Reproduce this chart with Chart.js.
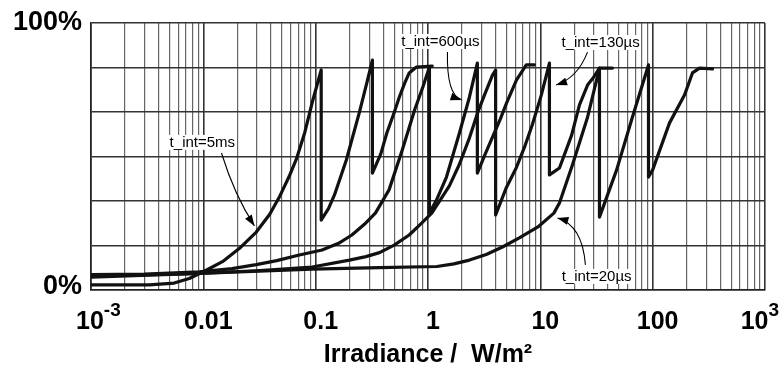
<!DOCTYPE html>
<html>
<head>
<meta charset="utf-8">
<script src="https://cdn.jsdelivr.net/npm/chart.js@4.4.1/dist/chart.umd.min.js"></script>
<style>
  html, body { margin: 0; padding: 0; background: #fff; }
  canvas { display: block; }
</style>
</head>
<body>
<canvas id="irr" width="784" height="370"></canvas>
<script>
// axis ticks / labels
const xTicks = [0.001, 0.01, 0.1, 1, 10, 100, 1000];
const xTickBase = ['10', '0.01', '0.1', '1', '10', '100', '10'];
const xTickSup = ['-3', '', '', '', '', '', '3'];
const xMinor = [2, 3, 4, 5, 6, 7, 8, 9];
const yGrid = [0, 16.67, 33.33, 50, 66.67, 83.33, 100];
const yLabelVals = [0, 100];
const yLabelText = ['0%', '100%'];

// curves (W/m2, %)
const x5ms = [0.001, 0.0033, 0.0055, 0.0075, 0.0107, 0.0148, 0.021, 0.0296, 0.039, 0.0475, 0.058, 0.0673, 0.08, 0.0935, 0.112,
  0.112, 0.13, 0.147, 0.1875, 0.245, 0.285, 0.32,
  0.32, 0.38, 0.43, 0.5, 0.556, 0.62, 0.68, 0.79, 1.09];
const y5ms = [1.9, 1.9, 2.6, 4.3, 7.5, 10.6, 15.6, 21.7, 28.4, 34.8, 42.5, 49.0, 59.0, 70.5, 82.4,
  26.2, 30.5, 35.6, 48.7, 66.5, 77.5, 86.1,
  43.8, 51, 58.8, 66.5, 72.3, 77.5, 81.3, 83.5, 83.9];

const x600us = [0.001, 0.003, 0.0092, 0.018, 0.0296, 0.045, 0.07, 0.114, 0.16, 0.21, 0.27, 0.34, 0.45, 0.59, 0.76, 0.9, 1.03,
  1.03, 1.2, 1.46, 1.905, 2.34, 2.75,
  2.75, 3.2, 3.75, 4.4, 5.0, 6.14, 7.5, 8.85];
const y600us = [5.8, 6.0, 6.8, 8.0, 9.5, 11.0, 13.0, 15.0, 17.5, 20.6, 24.5, 28.8, 37.5, 52.4, 67.4, 76, 83.5,
  28.8, 34, 42.3, 58.8, 72.3, 85.0,
  43.8, 50.5, 57.3, 64, 70.0, 78.7, 84.3, 84.3];

const x130us = [0.001, 0.0092, 0.0296, 0.093, 0.2, 0.28, 0.37, 0.5, 0.68, 0.85, 1.08, 1.55, 1.9, 2.34, 2.8, 3.18, 3.75, 4.0,
  4.0, 5.0, 6.14, 7.3, 8.5, 10.2, 12.05,
  12.05, 14.8, 19, 22.3, 26.5, 29.5, 33.6, 43.9];
const y130us = [5.2, 6.2, 7.2, 8.6, 11.2, 12.5, 14.0, 16.8, 20.6, 24.5, 28.8, 39, 47, 57, 67, 73, 80.5, 82.4,
  28.1, 38.5, 46, 54, 62, 73, 85.0,
  43.1, 45.7, 58, 69.3, 77, 79.4, 83.1, 83.1];

const x20us = [0.001, 0.0092, 0.093, 0.37, 1.2, 1.7, 2.34, 3.3, 4.6, 6.5, 9.52, 13.2, 14.8, 19.3, 26.2, 33.6,
  33.6, 47.7, 66.1, 91.8,
  91.8, 99.8, 141, 192, 226, 261, 341];
const y20us = [4.8, 6.2, 7.8, 8.4, 8.8, 9.8, 11.2, 13.3, 16.1, 19.5, 23.6, 28.8, 32.6, 46.8, 64.4, 83.1,
  27.3, 44.9, 64.8, 84.3,
  42.3, 44.9, 62.5, 73, 81.3, 83.1, 82.8];

// callouts: text position, arrow start, bend, tip (data units)
const notes = [
  { text: 't_int=5ms',   at: [0.0098, 55.1], from: [0.0145, 51.3], bend: [0.0189, 35.6], tip: [0.0285, 24.0] },
  { text: 't_int=600µs', at: [1.29, 92.9],   from: [1.49, 89.1],   bend: [1.46, 73.0],   tip: [1.99, 71.2] },
  { text: 't_int=130µs', at: [34.4, 92.5],   from: [26.3, 89.1],   bend: [21.4, 79.4],   tip: [13.8, 76.8] },
  { text: 't_int=20µs',  at: [31.7, 4.9],    from: [25.2, 9.4],    bend: [23.7, 24.3],   tip: [14.2, 27.0] }
];

const FONT = '"Liberation Sans", Arial, sans-serif';

function pts(xs, ys) {
  return xs.map((x, i) => ({ x: x, y: ys[i] }));
}

function isDecade(v) {
  const l = Math.log10(v);
  return Math.abs(l - Math.round(l)) < 1e-6;
}

let xGrid = [];
for (let e = -3; e < 3; e++) {
  xGrid.push(Math.pow(10, e));
  xMinor.forEach(m => xGrid.push(m * Math.pow(10, e)));
}
xGrid.push(1000);

const textPlugin = {
  id: 'textPlugin',
  afterDatasetsDraw(chart) {
    const { ctx, chartArea, scales } = chart;
    const xs = scales.x, ys = scales.y;
    ctx.save();
    ctx.fillStyle = '#000';
    ctx.strokeStyle = '#000';

    // x tick labels with superscripts
    ctx.textBaseline = 'alphabetic';
    ctx.textAlign = 'left';
    xTicks.forEach((v, i) => {
      ctx.font = 'bold 25px ' + FONT;
      const wb = ctx.measureText(xTickBase[i]).width;
      ctx.font = 'bold 19px ' + FONT;
      const ws = xTickSup[i] ? ctx.measureText(xTickSup[i]).width : 0;
      let left = xs.getPixelForValue(v) + 5 - (wb + ws) / 2;
      left = Math.max(76, Math.min(left, chart.width - 5 - wb - ws));
      const base = chartArea.bottom + 39;
      ctx.font = 'bold 25px ' + FONT;
      ctx.fillText(xTickBase[i], left, base);
      if (xTickSup[i]) {
        ctx.font = 'bold 19px ' + FONT;
        ctx.fillText(xTickSup[i], left + wb, base - 13);
      }
    });

    // y labels
    ctx.font = 'bold 27px ' + FONT;
    ctx.textAlign = 'right';
    ctx.textBaseline = 'middle';
    yLabelVals.forEach((v, i) => {
      ctx.fillText(yLabelText[i], chartArea.left - 9, ys.getPixelForValue(v) - (v === 0 ? 3 : 0));
    });

    // axis title
    ctx.font = 'bold 25px ' + FONT;
    ctx.textAlign = 'center';
    ctx.textBaseline = 'alphabetic';
    ctx.fillText('Irradiance /  W/m²', (chartArea.left + chartArea.right) / 2, chartArea.bottom + 72);

    // callouts
    notes.forEach(n => {
      const p = a => [xs.getPixelForValue(a[0]), ys.getPixelForValue(a[1])];
      const t = p(n.at), f = p(n.from), b = p(n.bend), k = p(n.tip);
      ctx.font = '15px ' + FONT;
      const w = ctx.measureText(n.text).width;
      ctx.fillStyle = '#fff';
      ctx.fillRect(t[0] - w / 2 - 1, t[1] - 8, w + 2, 15);
      ctx.fillStyle = '#000';
      ctx.textAlign = 'center';
      ctx.textBaseline = 'middle';
      ctx.fillText(n.text, t[0], t[1]);

      ctx.lineWidth = 1.1;
      ctx.beginPath();
      ctx.moveTo(f[0], f[1]);
      ctx.quadraticCurveTo(b[0], b[1], k[0], k[1]);
      ctx.stroke();
      const ang = Math.atan2(k[1] - b[1], k[0] - b[0]);
      ctx.beginPath();
      ctx.moveTo(k[0], k[1]);
      ctx.lineTo(k[0] - 11 * Math.cos(ang) + 4 * Math.sin(ang), k[1] - 11 * Math.sin(ang) - 4 * Math.cos(ang));
      ctx.lineTo(k[0] - 11 * Math.cos(ang) - 4 * Math.sin(ang), k[1] - 11 * Math.sin(ang) + 4 * Math.cos(ang));
      ctx.closePath();
      ctx.fill();
    });
    ctx.restore();
  }
};

const lineStyle = {
  borderColor: '#111',
  borderWidth: 3.2,
  pointRadius: 0,
  tension: 0,
  fill: false,
  borderJoinStyle: 'round',
  borderCapStyle: 'round'
};

new Chart(document.getElementById('irr'), {
  type: 'line',
  data: {
    datasets: [
      Object.assign({ label: 't_int=5ms', data: pts(x5ms, y5ms) }, lineStyle),
      Object.assign({ label: 't_int=600µs', data: pts(x600us, y600us) }, lineStyle),
      Object.assign({ label: 't_int=130µs', data: pts(x130us, y130us) }, lineStyle),
      Object.assign({ label: 't_int=20µs', data: pts(x20us, y20us) }, lineStyle)
    ]
  },
  options: {
    responsive: false,
    animation: false,
    layout: { padding: { left: 91, top: 23, right: 19, bottom: 80 } },
    plugins: { legend: { display: false }, tooltip: { enabled: false } },
    scales: {
      x: {
        type: 'logarithmic',
        min: 0.001,
        max: 1000,
        afterBuildTicks: s => { s.ticks = xGrid.map(v => ({ value: v })); },
        ticks: { display: false },
        grid: {
          drawTicks: false,
          color: c => isDecade(c.tick.value) ? '#333' : '#666',
          lineWidth: c => isDecade(c.tick.value) ? 1.6 : 1.2
        },
        border: { display: true, color: '#222', width: 1.6 }
      },
      y: {
        type: 'linear',
        min: 0,
        max: 100,
        afterBuildTicks: s => { s.ticks = yGrid.map(v => ({ value: v })); },
        ticks: { display: false },
        grid: { drawTicks: false, color: '#333', lineWidth: 1.6 },
        border: { display: true, color: '#222', width: 1.6 }
      }
    }
  },
  plugins: [textPlugin]
});
</script>
</body>
</html>
